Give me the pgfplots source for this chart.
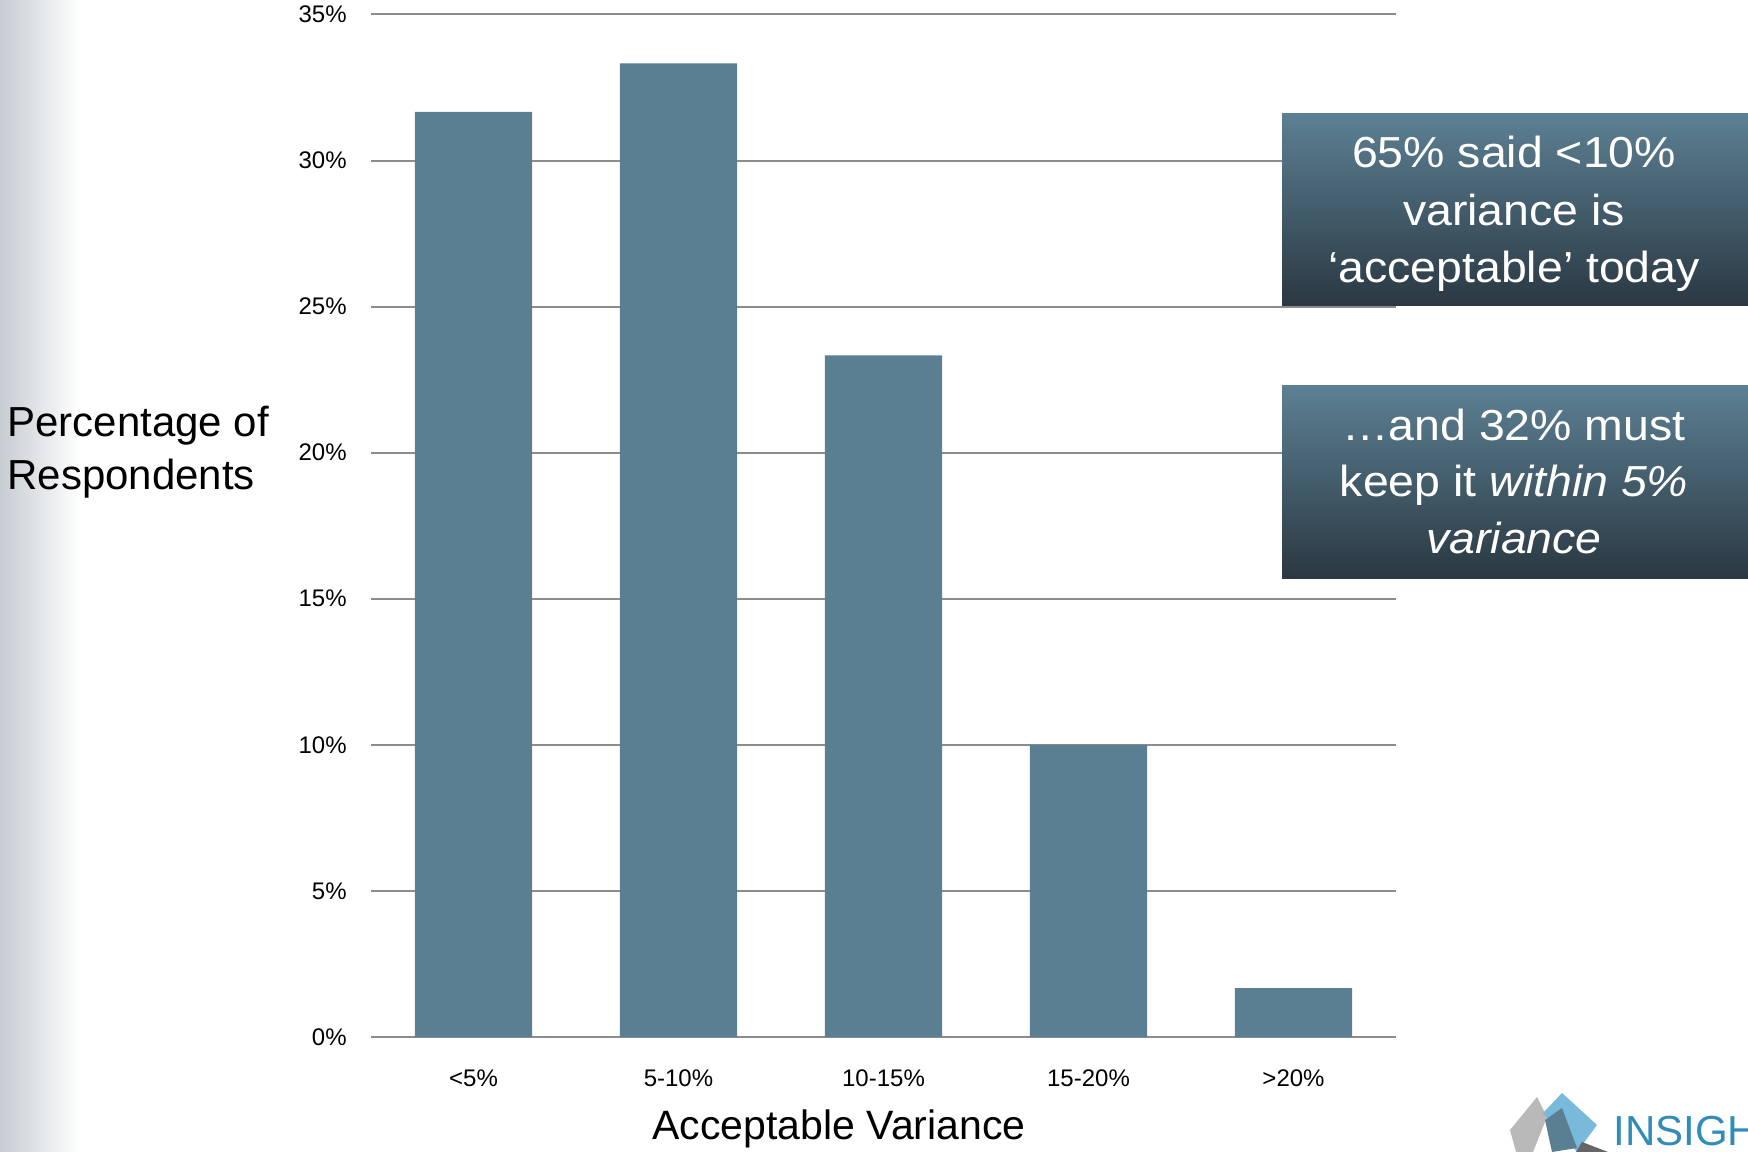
\documentclass[border=0pt]{standalone}
\usepackage{pgfplots}
\pgfplotsset{compat=1.18}
\usepackage{fontspec}
\setmainfont{Liberation Sans}
\newfontfamily\callfont[FakeStretch=1.07]{Liberation Sans}
\definecolor{barc}{RGB}{91,127,146}
\definecolor{gridc}{RGB}{140,140,140}
\definecolor{boxtop}{RGB}{92,128,147}
\definecolor{boxmid}{RGB}{72,99,114}
\definecolor{boxbot}{RGB}{42,56,66}
\definecolor{logoblue}{RGB}{50,140,185}
\definecolor{logolight}{RGB}{120,185,220}
\definecolor{leftg}{RGB}{198,204,209}
\begin{document}
\begin{tikzpicture}
\path[use as bounding box] (0,0) rectangle (874bp,576bp);
\clip (0,0) rectangle (874bp,576bp);
\shade[left color=leftg, right color=white] (0,0) rectangle (40bp,576bp);
\begin{axis}[
 at={(185.5bp,57.5bp)}, anchor=south west,
 scale only axis, width=512.5bp, height=511.25bp,
 xmin=-0.5, xmax=4.5, ymin=0, ymax=35,
 xtick={0,1,2,3,4},
 xticklabels={{<5\%},{5-10\%},{10-15\%},{15-20\%},{>20\%}},
 ytick={0,5,10,15,20,25,30,35},
 yticklabel={\pgfmathprintnumber{\tick}\%},
 axis line style={draw=none}, major tick length=0pt,
 ymajorgrids, grid style={draw=gridc, line width=1bp},
 ticklabel style={font=\fontsize{12bp}{14bp}\selectfont},
 yticklabel style={anchor=east, inner sep=0pt, xshift=-12bp},
 xticklabel style={anchor=north, inner sep=0pt, yshift=-16bp},
 /pgf/number format/assume math mode=true,
 clip=false,
]
\addplot[ybar, bar width=0.571, fill=barc, draw=none] coordinates {(0,31.67) (1,33.33) (2,23.33) (3,10) (4,1.67)};
\end{axis}
% axis labels
\node[anchor=base west, inner sep=0pt, font=\fontsize{21bp}{25bp}\selectfont] at (3.5bp,357.5bp) {Percentage of};
\node[anchor=base west, inner sep=0pt, font=\fontsize{21bp}{25bp}\selectfont] at (3.5bp,331bp) {Respondents};
\node[anchor=base, inner sep=0pt, font=\fontsize{20.5bp}{25bp}\selectfont] at (419.5bp,6.5bp) {Acceptable Variance};
% callouts
\shade[top color=boxtop, middle color=boxmid, bottom color=boxbot] (641bp,423bp) rectangle (874bp,519bp);
\shade[top color=boxtop, middle color=boxmid, bottom color=boxbot] (641bp,286.5bp) rectangle (874bp,383bp);
\begin{scope}[every node/.style={anchor=base, inner sep=0pt, text=white, font=\callfont\fontsize{21.7bp}{26bp}\selectfont}]
\node at (757bp,492bp) {65\% said <10\%};
\node at (757bp,463bp) {variance is};
\node at (757bp,434.5bp) {‘acceptable’ today};
\node at (757bp,355.5bp) {…and 32\% must};
\node at (757bp,327.5bp) {keep it \textit{within 5\%}};
\node at (757bp,299bp) {\textit{variance}};
\end{scope}
% logo (partial, cut by the right edge)
\fill[gray!55] (755bp,11bp) -- (768.5bp,27.5bp) -- (773.5bp,17.5bp) -- (766.5bp,0bp) -- (758bp,0bp) -- cycle;
\fill[logolight] (781bp,29.5bp) -- (798.5bp,13.5bp) -- (788.5bp,0bp) -- (771.5bp,19.5bp) -- cycle;
\fill[barc] (772.5bp,16bp) -- (781bp,22bp) -- (788.5bp,2bp) -- (776bp,0bp) -- cycle;
\fill[gray!80!black] (788bp,0bp) -- (791bp,5bp) -- (804bp,0bp) -- cycle;
\node[anchor=base west, inner sep=0pt, text=logoblue, font=\fontsize{21bp}{24bp}\selectfont] at (806.5bp,3.5bp) {INSIGHT};
\end{tikzpicture}
\end{document}
